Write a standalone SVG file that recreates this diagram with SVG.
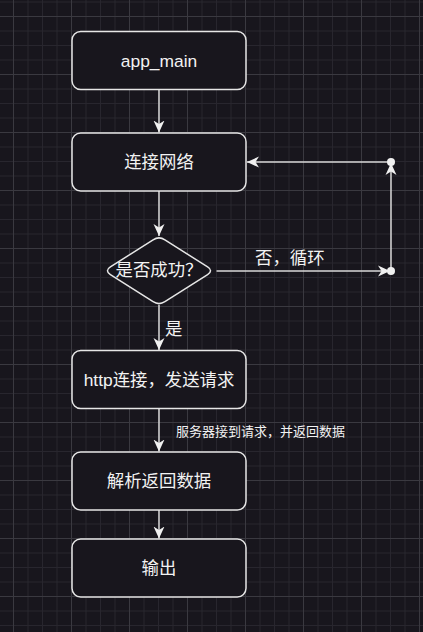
<svg xmlns="http://www.w3.org/2000/svg" width="423" height="632" viewBox="0 0 423 632">
  <style>
    .box { fill: #18161d; stroke: #e6e6e6; stroke-width: 1.5; }
    .edge { fill: none; stroke: #d9d9d9; stroke-width: 1.5; }
    .t { fill: #f2f2f2; font-family: "Liberation Sans", "Noto Sans CJK SC", sans-serif; font-size: 17.4px; text-anchor: middle; }
    .lbl { fill: #f2f2f2; font-family: "Liberation Sans", "Noto Sans CJK SC", sans-serif; font-size: 17.4px; }
    .small { font-size: 13px; }
    .dot { fill: #f0f0f0; }
  </style>
  <defs>
    <pattern id="grid" x="13" y="16" width="58" height="58" patternUnits="userSpaceOnUse">
      <rect x="14.5" y="0" width="1" height="58" fill="#28262e"/>
      <rect x="29" y="0" width="1" height="58" fill="#28262e"/>
      <rect x="43.5" y="0" width="1" height="58" fill="#28262e"/>
      <rect x="0" y="14.5" width="58" height="1" fill="#28262e"/>
      <rect x="0" y="29" width="58" height="1" fill="#28262e"/>
      <rect x="0" y="43.5" width="58" height="1" fill="#28262e"/>
      <rect x="0" y="0" width="1" height="58" fill="#3a3940"/>
      <rect x="0" y="0" width="58" height="1" fill="#3a3940"/>
    </pattern>
    <marker id="arr" viewBox="0 0 12 12" refX="12" refY="6" markerWidth="12" markerHeight="12" markerUnits="userSpaceOnUse" orient="auto">
      <path d="M0,0.5 L12,6 L0,11.5 L3.5,6 Z" fill="#f0f0f0"/>
    </marker>
  </defs>
  <rect x="0" y="0" width="423" height="632" fill="#18161d"/>
  <rect x="0" y="0" width="423" height="632" fill="url(#grid)"/>

  <g id="connectors">
    <line class="edge" x1="159" y1="90" x2="159" y2="132.5" marker-end="url(#arr)"/>
    <line class="edge" x1="159" y1="191" x2="159" y2="236" marker-end="url(#arr)"/>
    <line class="edge" x1="159" y1="305" x2="159" y2="350" marker-end="url(#arr)"/>
    <line class="edge" x1="159" y1="409" x2="159" y2="451.5" marker-end="url(#arr)"/>
    <line class="edge" x1="159" y1="510" x2="159" y2="538.5" marker-end="url(#arr)"/>
    <line class="edge" x1="216.5" y1="271" x2="390" y2="271" marker-end="url(#arr)"/>
    <line class="edge" x1="391" y1="271" x2="391" y2="163" marker-end="url(#arr)"/>
    <line class="edge" x1="391" y1="162" x2="247" y2="162" marker-end="url(#arr)"/>
    <circle class="dot" cx="391" cy="271" r="4"/>
    <circle class="dot" cx="391" cy="162" r="4"/>
    <text class="lbl" x="165" y="335">是</text>
    <text class="lbl small" x="176" y="435.5">服务器接到请求，并返回数据</text>
    <text class="lbl" x="255" y="263.5">否，循环</text>
  </g>

  <g id="app_main">
    <rect class="box" x="72" y="31.5" width="174" height="58" rx="8.7"/>
    <text class="t" x="159" y="66.5">app_main</text>
  </g>
  <g id="connect_net">
    <rect class="box" x="72" y="133" width="174" height="58" rx="8.7"/>
    <text class="t" x="159" y="168">连接网络</text>
  </g>
  <g id="decision">
    <path class="box" d="M153.1,239.76 Q159,236 164.9,239.76 L207.6,266.99 Q213.5,270.75 207.6,274.51 L164.9,301.74 Q159,305.5 153.1,301.74 L110.4,274.51 Q104.5,270.75 110.4,266.99 Z"/>
    <text class="t" x="159" y="276">是否成功？</text>
  </g>
  <g id="http">
    <rect class="box" x="72" y="350.5" width="174" height="58" rx="8.7"/>
    <text class="t" x="159" y="385.5">http连接，发送请求</text>
  </g>
  <g id="parse">
    <rect class="box" x="72" y="452" width="174" height="58" rx="8.7"/>
    <text class="t" x="159" y="487">解析返回数据</text>
  </g>
  <g id="output">
    <rect class="box" x="72" y="539" width="174" height="58" rx="8.7"/>
    <text class="t" x="159" y="574">输出</text>
  </g>
</svg>
